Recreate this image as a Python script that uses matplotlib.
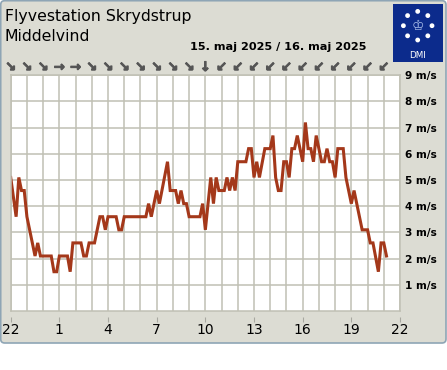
import matplotlib
matplotlib.use("Agg")
import matplotlib.pyplot as plt
from matplotlib.patches import FancyBboxPatch, Rectangle, Circle
import matplotlib.patheffects as pe
import numpy as np

# wind speed, 10-minute steps counted from 22:00
steps = [0, 2, 3, 4, 5, 6, 7, 8, 9, 10, 11, 15, 16, 17, 18, 21, 22, 23, 26, 27,
         28, 29, 31, 33, 34, 35, 36, 39, 40, 41, 42, 50, 51, 52, 54, 55, 58, 59, 61, 62,
         63, 64, 65, 66, 70, 71, 72, 74, 75, 76, 77, 79, 80, 81, 82, 83, 84, 87, 88, 89,
         90, 91, 92, 94, 96, 97, 98, 99, 100, 101, 102, 103, 104, 105, 106, 108, 109, 110, 111, 112,
         113, 115, 116, 117, 118, 119, 120, 121, 123, 124, 125, 126, 127, 130, 132, 133, 134, 136, 137, 138,
         139]
speed = [5.1, 3.6, 5.1, 4.6, 4.6, 3.6, 3.1, 2.6, 2.1, 2.6, 2.1, 2.1, 1.5, 1.5, 2.1, 2.1, 1.5, 2.6, 2.6, 2.1,
         2.1, 2.6, 2.6, 3.6, 3.6, 3.1, 3.6, 3.6, 3.1, 3.1, 3.6, 3.6, 4.1, 3.6, 4.6, 4.1, 5.7, 4.6, 4.6, 4.1,
         4.6, 4.1, 4.1, 3.6, 3.6, 4.1, 3.1, 5.1, 4.1, 5.1, 4.6, 4.6, 5.1, 4.6, 5.1, 4.6, 5.7, 5.7, 6.2, 6.2,
         5.1, 5.7, 5.1, 6.2, 6.2, 6.7, 5.1, 4.6, 4.6, 5.7, 5.7, 5.1, 6.2, 6.2, 6.7, 5.7, 7.2, 6.2, 6.2, 5.7,
         6.7, 5.7, 5.7, 6.2, 5.7, 5.7, 5.1, 6.2, 6.2, 5.1, 4.6, 4.1, 4.6, 3.1, 3.1, 2.6, 2.6, 1.5, 2.6, 2.6,
         2.1]

# hourly wind direction arrows (direction the wind blows to)
wind_arrows = ["\u2198", "\u2198", "\u2198", "\u2192", "\u2192", "\u2198", "\u2198", "\u2198",
               "\u2198", "\u2198", "\u2198", "\u2198", "\u2193", "\u2199", "\u2199", "\u2199",
               "\u2199", "\u2199", "\u2199", "\u2199", "\u2199", "\u2199", "\u2199", "\u2199"]

hour_ticks = [0, 3, 6, 9, 12, 15, 18, 21, 24]
hour_labels = ["22", "1", "4", "7", "10", "13", "16", "19", "22"]
speed_ticks = [1, 2, 3, 4, 5, 6, 7, 8, 9]

station = "Flyvestation Skrydstrup"
subtitle = "Middelvind"
dates = "15. maj 2025 / 16. maj 2025"

panel = "#dcdcd3"
gridc = "#c0c0b4"
linec = "#a4381a"

fig = plt.figure(figsize=(4.47, 3.70), dpi=100)
fig.patch.set_facecolor("white")

# background layer in pixel units
bg = fig.add_axes([0, 0, 1, 1], zorder=0)
bg.set_xlim(0, 447)
bg.set_ylim(370, 0)
bg.axis("off")
bg.add_patch(FancyBboxPatch((0.7, 0.7), 445.3, 342.3,
                            boxstyle="round,pad=0,rounding_size=4",
                            fc=panel, ec="#8ea5b5", lw=1.2))

# DMI logo
bg.add_patch(Rectangle((393.3, 4), 49.4, 57.7, fc="#0c2b8c", ec="none"))
for a in np.arange(0, 360, 45):
    cx = 417.7 + 14.3 * np.cos(np.radians(a))
    cy = 25.7 + 14.3 * np.sin(np.radians(a))
    bg.add_patch(Circle((cx, cy), 2.4, fc="white", ec="none"))
bg.text(417.7, 26, "\u2654", color="#a8bce8", fontsize=10, ha="center", va="center")
bg.text(417.7, 55, "DMI", color="white", fontsize=6.3, ha="center", va="center")

bg.text(5, 20.7, station, fontsize=11.3, va="baseline")
bg.text(5, 40.7, subtitle, fontsize=11.3, va="baseline")
bg.text(190, 50, dates, fontsize=8.1, fontweight="bold", va="baseline")

ax = fig.add_axes([10.7 / 447, 59 / 370, 389.3 / 447, 235.7 / 370], zorder=1)
ax.set_facecolor("white")
ax.plot(np.array(steps) / 6.0, speed, color=linec, lw=2.2, solid_joinstyle="miter")

ax.set_xlim(0, 24)
ax.set_ylim(0, 9)
ax.set_xticks(hour_ticks)
ax.set_xticklabels(hour_labels, fontsize=7.2, fontweight="bold")
ax.set_xticks(range(25), minor=True)
ax.set_yticks(speed_ticks)
ax.set_yticklabels([f"{v} m/s" for v in speed_ticks], fontsize=7.6, fontweight="bold")
ax.yaxis.tick_right()
ax.tick_params(axis="y", length=0, pad=3.5)
ax.tick_params(axis="x", which="major", length=3.6, color="#a8a8a0", pad=1.2, width=0.8)
ax.tick_params(axis="x", which="minor", length=0)
ax.grid(axis="x", which="both", color=gridc, lw=1.1)
ax.grid(axis="y", which="major", color=gridc, lw=1.1)
ax.set_axisbelow(True)
for s in ["left", "top", "right"]:
    ax.spines[s].set_color(gridc)
    ax.spines[s].set_linewidth(1.1)
ax.spines["bottom"].set_position(("outward", 4))
ax.spines["bottom"].set_visible(False)
ax.axhline(0, color=gridc, lw=1.1, clip_on=False, zorder=0.5)

# direction arrows above the plot, one per hour
for h, arrow in enumerate(wind_arrows):
    ax.text(h, 1.033, arrow, transform=ax.get_xaxis_transform(),
            ha="center", va="center", fontsize=9.5, fontweight="bold",
            color="#555555", clip_on=False,
            path_effects=[pe.withStroke(linewidth=0.7, foreground="#555555")])

fig.savefig("out.png", dpi=100)
